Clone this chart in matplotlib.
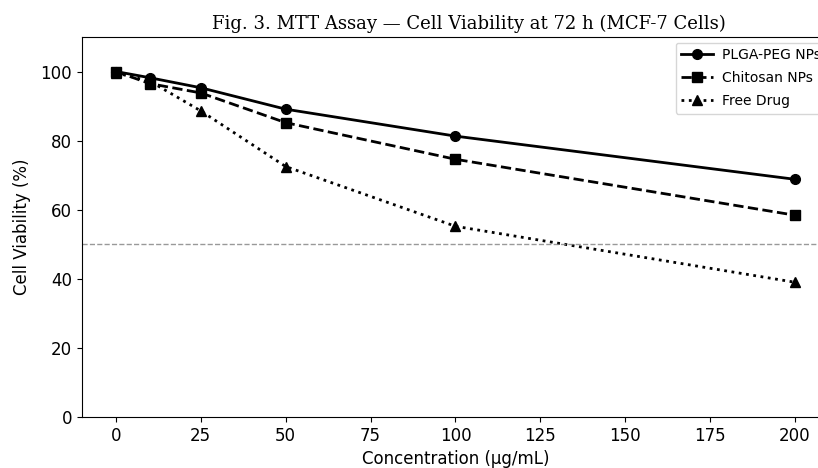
import os
import matplotlib
matplotlib.use("Agg")
import matplotlib.pyplot as plt
from matplotlib.font_manager import FontProperties

conc = [0, 10, 25, 50, 100, 200]
plga_peg = [100.0, 98.2, 95.3, 89.1, 81.3, 68.8]
chitosan = [100.0, 96.5, 93.8, 85.2, 74.6, 58.4]
free_drug = [99.6, 97.2, 88.6, 72.5, 55.2, 39.0]
series_labels = ["PLGA-PEG NPs", "Chitosan NPs", "Free Drug"]
xticks = [0, 25, 50, 75, 100, 125, 150, 175, 200]
yticks = [0, 20, 40, 60, 80, 100]
ic50 = 50

serif_path = os.path.join(matplotlib.get_data_path(), "fonts", "ttf", "DejaVuSerif.ttf")
title_fp = FontProperties(fname=serif_path, size=13)

fig = plt.figure(figsize=(8.18, 4.68), dpi=100)
ax = fig.add_axes([0.1002, 0.109, 0.9132, 0.812])

ax.plot(conc, plga_peg, color="black", linestyle="-", marker="o", lw=2, ms=7, label=series_labels[0])
ax.plot(conc, chitosan, color="black", linestyle="--", marker="s", lw=2, ms=7, label=series_labels[1])
ax.plot(conc, free_drug, color="black", linestyle=":", marker="^", lw=2, ms=7, label=series_labels[2])
ax.axhline(ic50, color="gray", linestyle="--", lw=1, alpha=0.8)

ax.set_ylim(0, 110)
ax.set_xticks(xticks)
ax.set_yticks(yticks)
ax.tick_params(labelsize=12)
ax.set_xlabel("Concentration (µg/mL)", fontsize=12)
ax.set_ylabel("Cell Viability (%)", fontsize=12, labelpad=7)
ax.set_title("Fig. 3. MTT Assay — Cell Viability at 72 h (MCF-7 Cells)", fontproperties=title_fp, x=0.518)
leg = ax.legend(loc="upper right", bbox_to_anchor=(0.996, 0.985), borderaxespad=0,
                fontsize=10, labelspacing=0.65, handlelength=2.3, handletextpad=0.6)

fig.savefig("out.png", dpi=100)
